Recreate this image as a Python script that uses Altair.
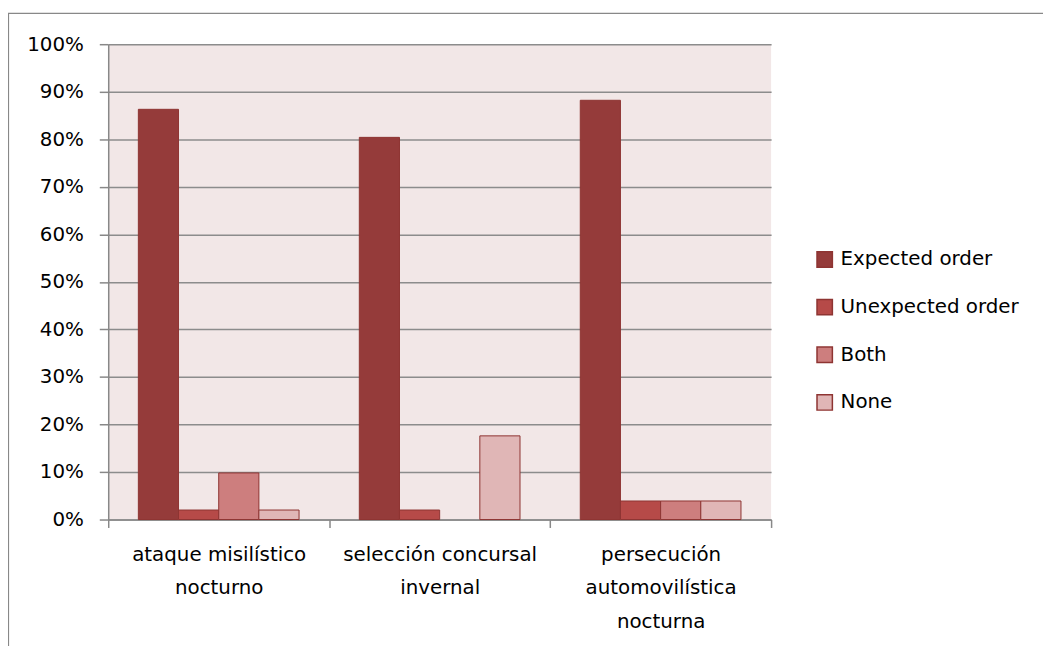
import altair as alt
import pandas as pd

categories = ["ataque misilístico\nnocturno",
              "selección concursal\ninvernal",
              "persecución\nautomovilística\nnocturna"]
series = ["Expected order", "Unexpected order", "Both", "None"]
expected = [0.863, 0.804, 0.882]
unexpected = [0.020, 0.020, 0.039]
both = [0.098, 0.0, 0.039]
none_ = [0.020, 0.176, 0.039]
colors = ["#953B3A", "#B64A48", "#CD7E7E", "#E0B6B6"]
y_ticks = [0, 0.1, 0.2, 0.3, 0.4, 0.5, 0.6, 0.7, 0.8, 0.9, 1.0]

rows = []
for s, vals in zip(series, [expected, unexpected, both, none_]):
    for c, v in zip(categories, vals):
        rows.append({"category": c, "series": s, "value": v})
df = pd.DataFrame(rows)

FONT = "DejaVu Sans"
FS = 20

bars = alt.Chart(df).transform_filter("datum.value > 0").mark_bar(
    stroke="#8E3432", strokeWidth=1).encode(
    x=alt.X("category:N", sort=categories,
            scale=alt.Scale(domain=categories, paddingInner=0, paddingOuter=0),
            axis=alt.Axis(title=None, labelAngle=0, tickBand="extent",
                          labelExpr="split(datum.label, '\\n')",
                          labelLineHeight=34, labelPadding=17, tickSize=8,
                          labelFontSize=FS, labelFont=FONT, labelColor="#000000",
                          labelLimit=0,
                          domainColor="#888888", tickColor="#888888",
                          domainWidth=1.5, tickWidth=1.5, grid=False,
                          labelBaseline="top")),
    xOffset=alt.XOffset("series:N", sort=series,
                        scale=alt.Scale(domain=series, paddingInner=0, paddingOuter=0.75)),
    y=alt.Y("value:Q", scale=alt.Scale(domain=[0, 1]),
            axis=alt.Axis(title=None, format=".0%", values=y_ticks,
                          labelFontSize=FS, labelFont=FONT, labelColor="#000000",
                          labelPadding=16, tickSize=9, labelLimit=0,
                          domainColor="#888888", tickColor="#888888",
                          gridColor="#8C8C8C", gridWidth=1.5,
                          domainWidth=1.5, tickWidth=1.5)),
    color=alt.Color("series:N", sort=series,
                    scale=alt.Scale(domain=series, range=colors),
                    legend=alt.Legend(title=None, orient="none",
                                      legendX=712, legendY=207,
                                      symbolType="square", symbolSize=240,
                                      symbolStrokeColor="#8E3432",
                                      symbolStrokeWidth=1.5,
                                      labelFontSize=FS, labelFont=FONT,
                                      labelColor="#000000", rowPadding=26,
                                      labelOffset=6, labelLimit=0)),
)

border = alt.Chart(pd.DataFrame({"a": [0]})).mark_rect(
    fill=None, stroke="#888888", strokeWidth=1.2).encode(
    x=alt.value(-100.5), x2=alt.value(2000), y=alt.value(-31), y2=alt.value(2000))

chart = alt.layer(bars, border).properties(
    width=668, height=479,
    autosize=alt.AutoSizeParams(type="none"),
    padding={"left": 101, "top": 34, "right": 274, "bottom": 130},
    background="white",
).configure_view(fill="#F2E7E7", stroke=None)

chart.save("out.html", embed_options={"renderer": "svg", "actions": False})
